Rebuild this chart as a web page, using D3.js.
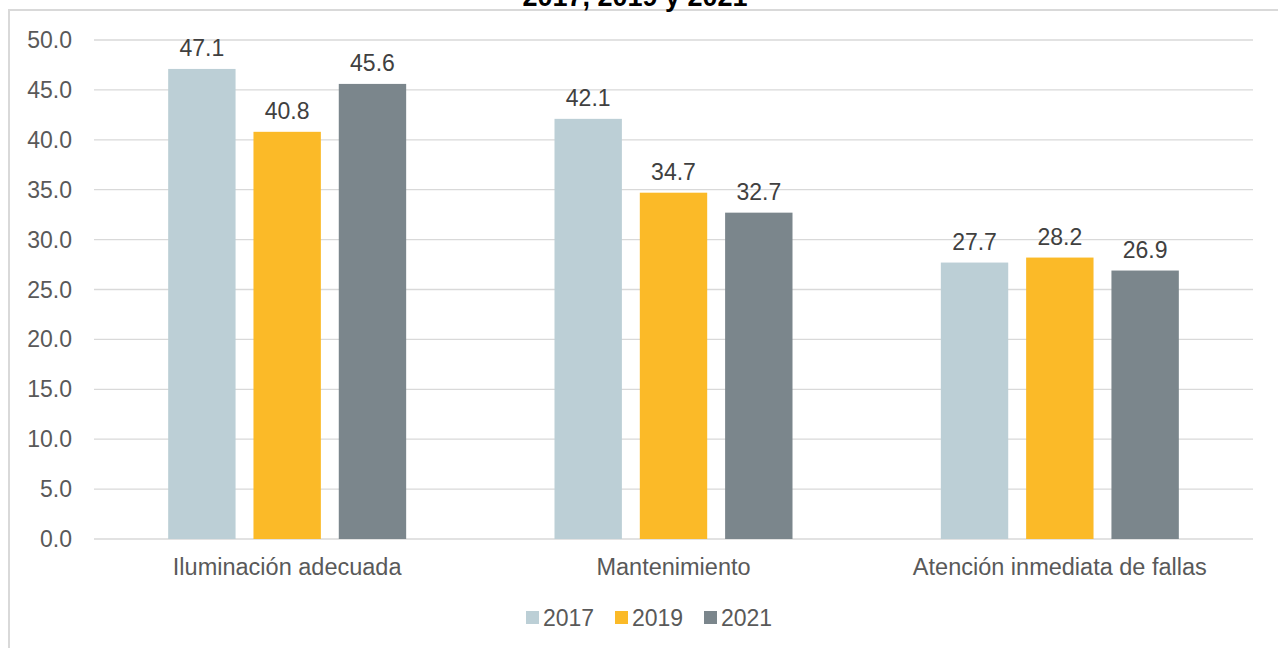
<!DOCTYPE html>
<html>
<head>
<meta charset="utf-8">
<script src="https://d3js.org/d3.v7.min.js"></script>
<style>
    body {
        margin: 0;
        background: #ffffff;
    }
    text {
        font-family: "Liberation Sans", Arial, sans-serif;
        fill: #595959;
    }
    text.chart-title {
        font-size: 27px;
        font-weight: bold;
        fill: #000000;
    }
    text.bar-label {
        font-size: 23px;
        fill: #404040;
    }
    .grid line {
        stroke: #d9d9d9;
        stroke-width: 1.3px;
    }
</style>
</head>
<body>
<div id="chart"></div>

<script>

    // chart values
    const categories = ["Iluminación adecuada", "Mantenimiento", "Atención inmediata de fallas"];
    const years = ["2017", "2019", "2021"];
    const values2017 = [47.1, 42.1, 27.7];
    const values2019 = [40.8, 34.7, 28.2];
    const values2021 = [45.6, 32.7, 26.9];
    const yTicks = [0, 5, 10, 15, 20, 25, 30, 35, 40, 45, 50];
    const colors = ["#bccfd6", "#fbba28", "#7b868c"];

    const width = 1278, height = 648;

    // one row per bar
    const seriesValues = [values2017, values2019, values2021];
    const rows = [];
    categories.forEach((c, i) => {
        years.forEach((yr, j) => {
            rows.push({category: c, year: yr, value: seriesValues[j][i]});
        });
    });

    const svg = d3.select("#chart")
        .append("svg")
        .attr("width", width)
        .attr("height", height);

    // outer frame (cut at right and bottom)
    svg.append("rect")
        .attr("x", 9)
        .attr("y", 10)
        .attr("width", width + 20)
        .attr("height", height + 20)
        .attr("fill", "none")
        .attr("stroke", "#d9d9d9")
        .attr("stroke-width", 2);

    // second line of the title, the first one is out of the picture
    svg.append("text")
        .attr("class", "chart-title")
        .attr("x", 635)
        .attr("y", 6)
        .attr("text-anchor", "middle")
        .text("2017, 2019 y 2021");

    // scales
    const x = d3.scaleBand()
        .domain(categories)
        .range([94, 1253])
        .padding(0);

    const xInner = d3.scaleBand()
        .domain(years)
        .range([-119, 119])
        .paddingInner(0.21)
        .paddingOuter(0);

    const y = d3.scaleLinear()
        .domain([0, 50])
        .range([539, 40]);

    const color = d3.scaleOrdinal()
        .domain(years)
        .range(colors);

    // gridlines
    svg.append("g")
        .attr("class", "grid")
        .selectAll("line")
        .data(yTicks)
        .join("line")
        .attr("x1", 94)
        .attr("x2", 1253)
        .attr("y1", d => y(d))
        .attr("y2", d => y(d));

    // y axis labels
    svg.append("g")
        .selectAll("text")
        .data(yTicks)
        .join("text")
        .attr("x", 72)
        .attr("y", d => y(d))
        .attr("dy", "0.35em")
        .attr("text-anchor", "end")
        .style("font-size", "23px")
        .text(d => d3.format(".1f")(d));

    // bars
    svg.append("g")
        .selectAll("rect")
        .data(rows)
        .join("rect")
        .attr("x", d => x(d.category) + x.bandwidth() / 2 + xInner(d.year))
        .attr("y", d => y(d.value))
        .attr("width", xInner.bandwidth())
        .attr("height", d => y(0) - y(d.value))
        .attr("fill", d => color(d.year));

    // value labels
    svg.append("g")
        .selectAll("text")
        .data(rows)
        .join("text")
        .attr("class", "bar-label")
        .attr("x", d => x(d.category) + x.bandwidth() / 2 + xInner(d.year) + xInner.bandwidth() / 2)
        .attr("y", d => y(d.value) - 13)
        .attr("text-anchor", "middle")
        .text(d => d3.format(".1f")(d.value));

    // category labels
    svg.append("g")
        .selectAll("text")
        .data(categories)
        .join("text")
        .attr("x", d => x(d) + x.bandwidth() / 2)
        .attr("y", 575)
        .attr("text-anchor", "middle")
        .style("font-size", "23.5px")
        .text(d => d);

    // legend
    const legend = svg.append("g")
        .selectAll("g")
        .data(years)
        .join("g")
        .attr("transform", (d, i) => `translate(${526 + i * 89}, 611)`);

    legend.append("rect")
        .attr("width", 13)
        .attr("height", 13)
        .attr("fill", d => color(d));

    legend.append("text")
        .attr("x", 17)
        .attr("y", 15)
        .style("font-size", "23px")
        .text(d => d);

</script>
</body>
</html>
